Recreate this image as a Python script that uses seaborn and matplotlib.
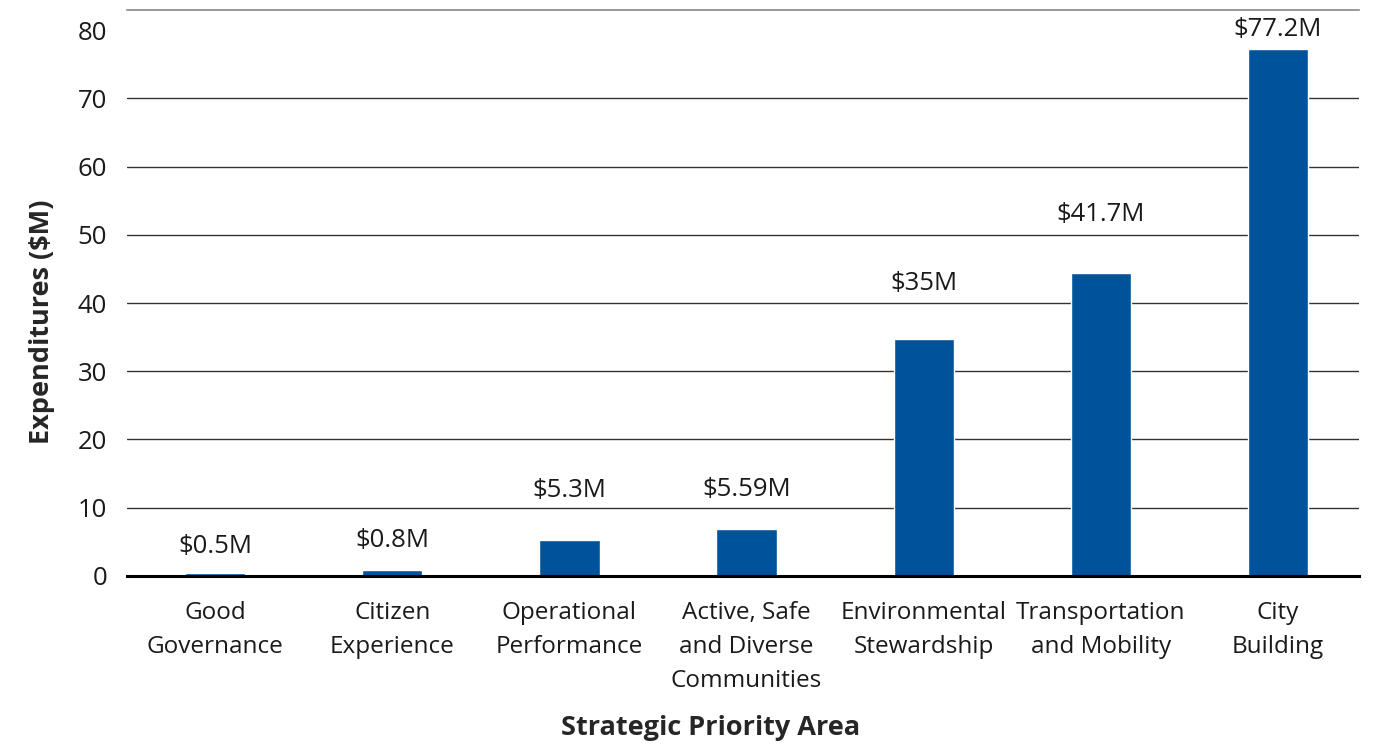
import numpy as np
import pandas as pd
import matplotlib.pyplot as plt
import seaborn as sns

categories = ["Good\nGovernance", "Citizen\nExperience", "Operational\nPerformance",
              "Active, Safe\nand Diverse\nCommunities", "Environmental\nStewardship",
              "Transportation\nand Mobility", "City\nBuilding"]
values = [0.45, 0.9, 5.2, 6.9, 34.7, 44.4, 77.2]
value_labels = ["$0.5M", "$0.8M", "$5.3M", "$5.59M", "$35M", "$41.7M", "$77.2M"]
# centre of each value label above its bar, in points
label_pad = [19, 21, 36, 28, 40, 42, 14]

df = pd.DataFrame({'area': categories, 'spend': values})

sns.set_style("white")
plt.rcParams['font.family'] = ['Open Sans', 'DejaVu Sans']

fig = plt.figure(figsize=(13.76, 7.45), dpi=100)
ax = fig.add_axes([0.092, 0.227, 0.896, 0.76])

sns.barplot(data=df, x='area', y='spend', color='#00539B', saturation=1,
            width=0.34, ax=ax)

ax.set_xlim(-0.5, 6.46)
ax.set_ylim(0, 83)
ax.set_yticks(np.arange(0, 81, 10))
ax.yaxis.grid(True, color='#333333', linewidth=1)
ax.set_axisbelow(True)
# no gridline at 80 in the original
ax.get_ygridlines()[-1].set_visible(False)

for s in ['left', 'right']:
    ax.spines[s].set_visible(False)
ax.spines['top'].set_color('#888888')
ax.spines['top'].set_linewidth(1.2)
ax.spines['bottom'].set_color('black')
ax.spines['bottom'].set_linewidth(2.2)

ax.tick_params(axis='both', length=0, colors='#1a1a1a')
ax.tick_params(axis='y', pad=14, labelsize=18.5)
ax.tick_params(axis='x', pad=18, labelsize=17.5)
for t in ax.get_xticklabels():
    t.set_linespacing(1.55)

for i, (v, lab) in enumerate(zip(values, value_labels)):
    ax.annotate(lab, (i, v), xytext=(0, label_pad[i]), textcoords='offset points',
                ha='center', va='center', fontsize=18.5, color='#1a1a1a')

ax.set_xlabel("Strategic Priority Area", fontsize=19.5, fontweight='bold')
ax.set_ylabel("Expenditures ($M)", fontsize=19.5, fontweight='bold')
ax.xaxis.set_label_coords(0.474, -0.245)
ax.yaxis.set_label_coords(-0.058, 0.449)

plt.savefig("out.png", dpi=100)
